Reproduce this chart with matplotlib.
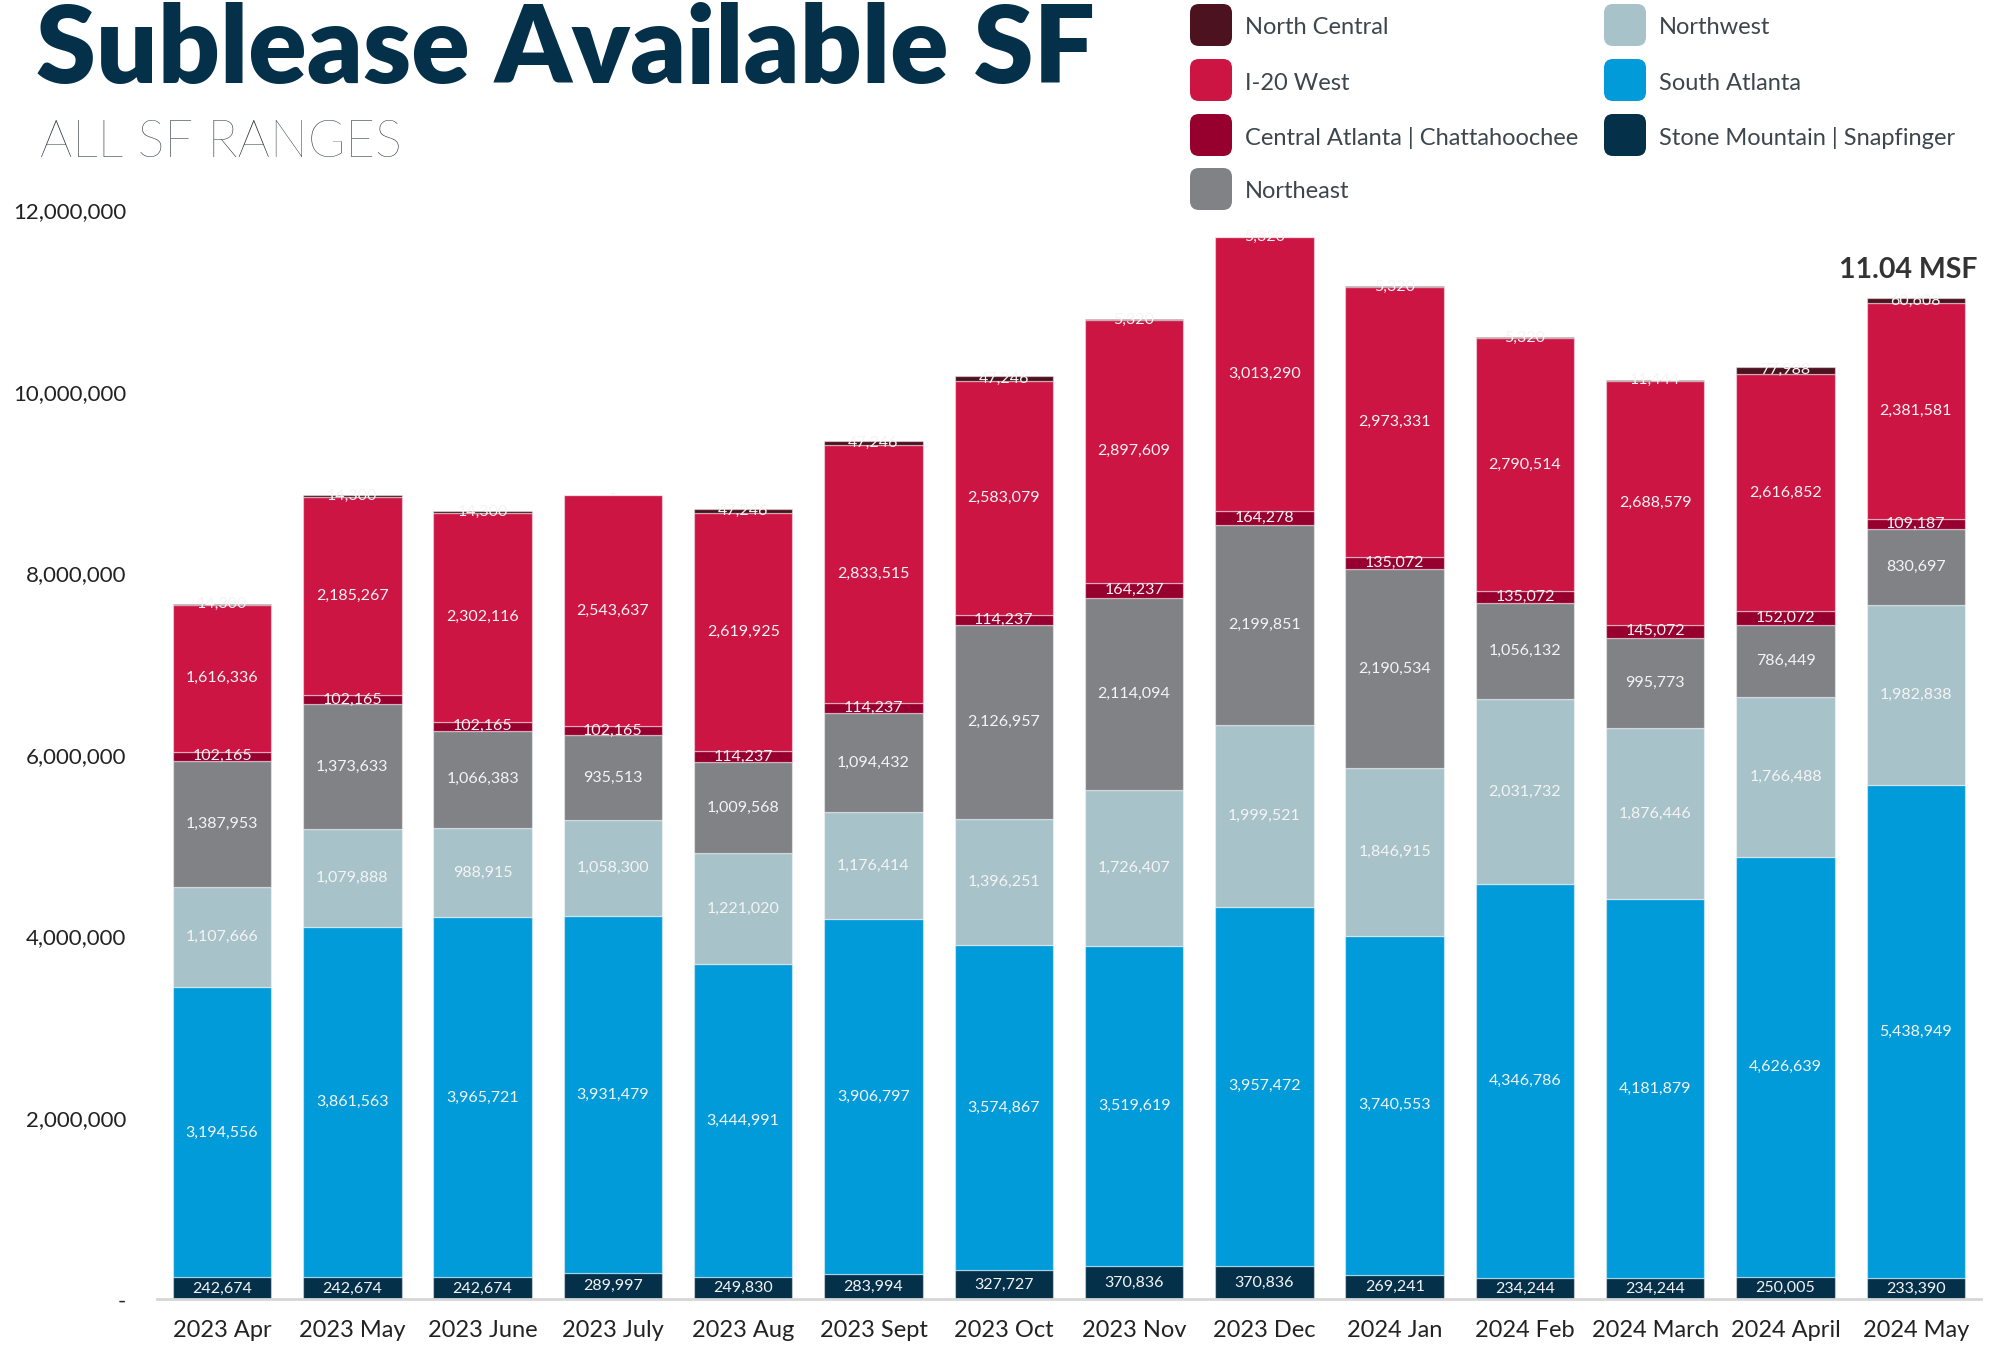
import matplotlib
matplotlib.use("Agg")
import matplotlib.pyplot as plt
import numpy as np
from matplotlib.patches import FancyBboxPatch
from matplotlib.ticker import FuncFormatter

plt.rcParams['font.family'] = ['Lato', 'DejaVu Sans']

# months on the x axis
months = ["2023 Apr", "2023 May", "2023 June", "2023 July", "2023 Aug", "2023 Sept",
          "2023 Oct", "2023 Nov", "2023 Dec", "2024 Jan", "2024 Feb", "2024 March",
          "2024 April", "2024 May"]

# stacked from bottom to top
stone_mountain = [242674, 242674, 242674, 289997, 249830, 283994, 327727,
                  370836, 370836, 269241, 234244, 234244, 250005, 233390]
south_atlanta = [3194556, 3861563, 3965721, 3931479, 3444991, 3906797, 3574867,
                 3519619, 3957472, 3740553, 4346786, 4181879, 4626639, 5438949]
northwest = [1107666, 1079888, 988915, 1058300, 1221020, 1176414, 1396251,
             1726407, 1999521, 1846915, 2031732, 1876446, 1766488, 1982838]
northeast = [1387953, 1373633, 1066383, 935513, 1009568, 1094432, 2126957,
             2114094, 2199851, 2190534, 1056132, 995773, 786449, 830697]
central_atlanta = [102165, 102165, 102165, 102165, 114237, 114237, 114237,
                   164237, 164278, 135072, 135072, 145072, 152072, 109187]
i20_west = [1616336, 2185267, 2302116, 2543637, 2619925, 2833515, 2583079,
            2897609, 3013290, 2973331, 2790514, 2688579, 2616852, 2381581]
north_central = [14300, 14300, 14300, 0, 47246, 47246, 47246,
                 5320, 5320, 5320, 5320, 11444, 77988, 60608]

series = [
    ("Stone Mountain | Snapfinger", stone_mountain, "#05304A"),
    ("South Atlanta", south_atlanta, "#009BD8"),
    ("Northwest", northwest, "#A8C2CA"),
    ("Northeast", northeast, "#808285"),
    ("Central Atlanta | Chattahoochee", central_atlanta, "#97002E"),
    ("I-20 West", i20_west, "#CD1543"),
    ("North Central", north_central, "#4C1220"),
]

W, H = 2001, 1348
fig = plt.figure(figsize=(W / 100, H / 100), dpi=100)
ax = fig.add_axes([0.0784, 0.036, 0.9116, 0.808])

x = np.arange(len(months))
bottom = np.zeros(len(months))
for name, vals, col in series:
    vals = np.array(vals, dtype=float)
    ax.bar(x, vals, 0.755, bottom=bottom, color=col,
           edgecolor=(1, 1, 1, 0.45), linewidth=0.9, zorder=2)
    for xi, b, v in zip(x, bottom, vals):
        txt = f"{int(v):,}" if v > 0 else "-"
        ax.text(xi, b + v / 2, txt, ha='center', va='center',
                fontsize=11.5, color='#f4f4f4', zorder=3)
    bottom += vals

totals = bottom
ax.text(x[-1] + 0.47, totals[-1] + 300000, f"{totals[-1] / 1e6:.2f} MSF",
        ha='right', va='center', fontsize=20.5, fontweight='bold', color='#333333')

ax.set_xlim(-0.5, len(months) - 0.5)
ax.set_ylim(0, 12000000)
ax.set_yticks(np.arange(0, 12000001, 2000000))
ax.yaxis.set_major_formatter(FuncFormatter(lambda v, p: "-" if v == 0 else f"{int(v):,}"))
ax.set_xticks(x)
ax.set_xticklabels(months)
ax.tick_params(axis='y', length=0, pad=22, labelsize=16, labelcolor='#222222')
ax.tick_params(axis='x', length=0, pad=15, labelsize=17, labelcolor='#222222')
for s in ['top', 'right', 'left']:
    ax.spines[s].set_visible(False)
ax.spines['bottom'].set_color('#d6d6d6')
ax.spines['bottom'].set_linewidth(2)

# overlay in pixel coordinates for titles and legend
ov = fig.add_axes([0, 0, 1, 1], zorder=5)
ov.set_xlim(0, W)
ov.set_ylim(H, 0)
ov.axis('off')

ov.text(36, 83, "Sublease Available SF", fontsize=78, fontweight='heavy',
        color='#04304A', ha='left', va='baseline')
ov.text(40, 157, "ALL SF RANGES", fontsize=36.5, fontweight='light',
        color='#2a343c', ha='left', va='baseline')

legend_order = ["North Central", "I-20 West", "Central Atlanta | Chattahoochee", "Northeast",
                "Northwest", "South Atlanta", "Stone Mountain | Snapfinger"]
colors = {n: c for n, _, c in series}
rows_y = [25, 80, 135, 189]
for i, name in enumerate(legend_order):
    col_i, row_i = (0, i) if i < 4 else (1, i - 4)
    px = 1190 if col_i == 0 else 1604
    py = rows_y[row_i]
    ov.add_patch(FancyBboxPatch((px, py - 21), 42, 42,
                                boxstyle="round,pad=0,rounding_size=9",
                                facecolor=colors[name], edgecolor='none'))
    ov.text(px + 55, py + 3, name, fontsize=17, color='#3d464d', ha='left', va='center')

fig.savefig("out.png", dpi=100)
